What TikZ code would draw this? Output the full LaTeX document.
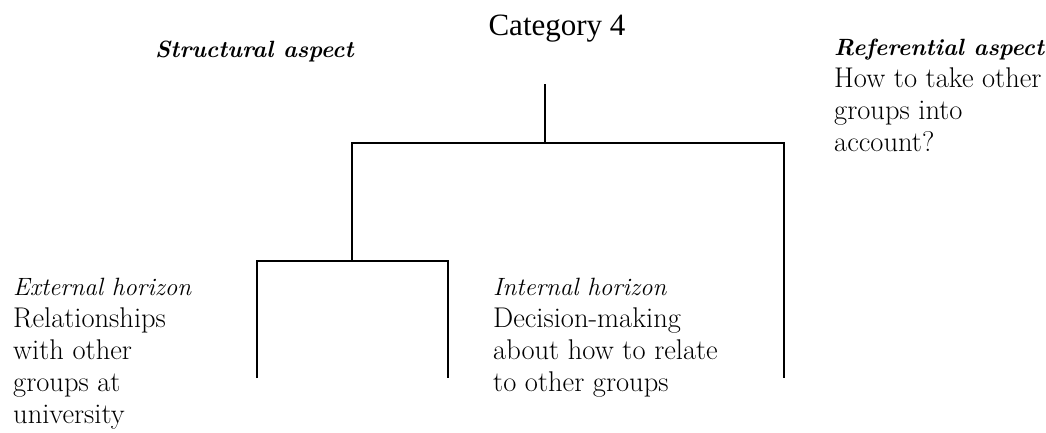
\documentclass[tikz,border=0pt]{standalone}
\usepackage{fontspec}
\newfontfamily\catfont{Liberation Serif}
\newcommand{\aspectfont}{\fontsize{23.5}{32}\selectfont\bfseries\itshape}
\newcommand{\horizonfont}{\fontsize{25}{32}\selectfont\itshape}
\tikzset{
  tree/.style={line width=2pt, line join=miter},
  heading/.style={inner sep=0pt, anchor=base, font=\catfont\fontsize{31}{36}\selectfont},
  aspect/.style={inner sep=0pt, anchor=base west, font=\aspectfont},
  % multi-line blocks are placed by the baseline of their last line
  block/.style={inner sep=0pt, anchor=base west, align=left, font=\fontsize{28.5}{32}\selectfont},
}
\begin{document}
\begin{tikzpicture}[x=1pt,y=-1pt]
\useasboundingbox (0,0) rectangle (1046,432);

% headings
\node[heading] (title) at (557,35) {Category 4};
\node[aspect] (structural) at (155,57) {Structural aspect};
\node[block] (referential) at (834,151) {{\aspectfont Referential aspect}\\How to take other\\groups into\\account?};
\node[block] (external) at (13,423) {{\horizonfont External horizon}\\Relationships\\with other\\groups at\\university};
\node[block] (internal) at (493,391) {{\horizonfont Internal horizon}\\Decision-making\\about how to relate\\to other groups};

% bracket points
\coordinate (root) at (545,84);
\coordinate (j1)   at (545,143);
\coordinate (hL)   at (352,143);
\coordinate (hR)   at (784,143);
\coordinate (j2)   at (352,261);
\coordinate (h2L)  at (257,261);
\coordinate (h2R)  at (448,261);
\coordinate (e1)   at (257,378);
\coordinate (e2)   at (448,378);
\coordinate (e3)   at (784,378);

% bracket lines
\draw[tree] (root) -- (j1);
\draw[tree] (j2) -- (hL) -- (hR) -- (e3);
\draw[tree] (e1) -- (h2L) -- (h2R) -- (e2);
\end{tikzpicture}
\end{document}
